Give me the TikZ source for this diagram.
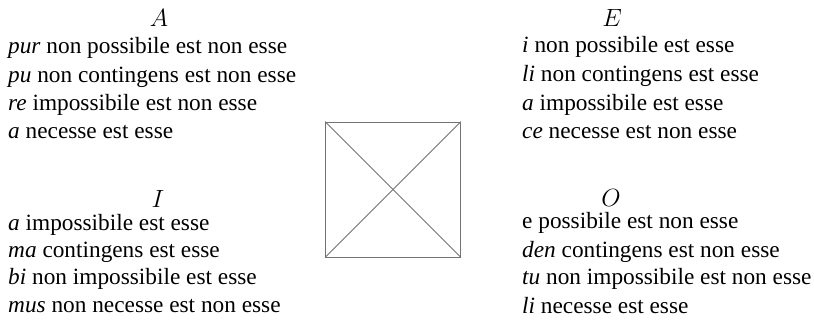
\documentclass[tikz,border=0pt]{standalone}
\usepackage{fontspec}
\setmainfont{Liberation Serif}
\usepackage{amsmath}
\begin{document}
\begin{tikzpicture}[x=1pt,y=-1pt,
    verse/.style={anchor=base west,inner sep=0pt,font=\fontsize{23.3}{28}\selectfont},
    vowel/.style={anchor=base,inner sep=0pt,font=\fontsize{25}{30}\selectfont}]
    \useasboundingbox (0,0) rectangle (814,330);
    \node[vowel] (A) at (159,26) {\(A\)};
    \node[verse] (A1) at (8,53) {\textit{pur} non possibile est non esse};
    \node[verse] (A2) at (8,82) {\textit{pu} non contingens est non esse};
    \node[verse] (A3) at (8,110) {\textit{re} impossibile est non esse};
    \node[verse] (A4) at (8,138) {\textit{a} necesse est esse};
    \node[vowel] (I) at (158,207) {\(I\)};
    \node[verse] (I1) at (8,230) {\textit{a} impossibile est esse};
    \node[verse] (I2) at (8,257) {\textit{ma} contingens est esse};
    \node[verse] (I3) at (8,284) {\textit{bi} non impossibile est esse};
    \node[verse] (I4) at (8,312) {\textit{mus} non necesse est non esse};
    \node[vowel] (E) at (612,26) {\(E\)};
    \node[verse] (E1) at (522,52) {\textit{i} non possibile est esse};
    \node[verse] (E2) at (522,81) {\textit{li} non contingens est esse};
    \node[verse] (E3) at (522,110) {\textit{a} impossibile est esse};
    \node[verse] (E4) at (522,138) {\textit{ce} necesse est non esse};
    \node[vowel] (O) at (611,206) {\(O\)};
    \node[verse] (O1) at (522,228) {e possibile est non esse};
    \node[verse] (O2) at (522,257) {\textit{den} contingens est non esse};
    \node[verse] (O3) at (522,284) {\textit{tu} non impossibile est non esse};
    \node[verse] (O4) at (522,313) {\textit{li} necesse est esse};
    \node[draw=black!55,line width=0.8pt,minimum size=135pt,inner sep=0pt] (sq) at (393,189.5) {};
    \draw[black!55,line width=0.8pt] (sq.north west) -- (sq.south east);
    \draw[black!55,line width=0.8pt] (sq.south west) -- (sq.north east);
\end{tikzpicture}
\end{document}
